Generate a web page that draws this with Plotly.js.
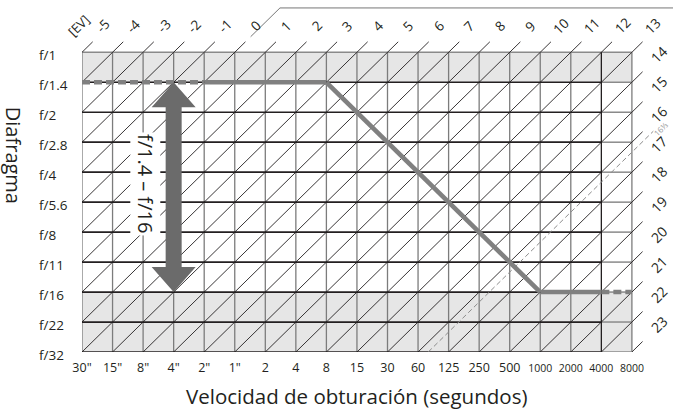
<!DOCTYPE html>
<html>
<head>
<meta charset="utf-8">
<script src="https://cdn.plot.ly/plotly-3.0.1.min.js"></script>
<style>
  html, body { margin: 0; padding: 0; background: #fff; }
  #chart { width: 673px; height: 411px; }
</style>
</head>
<body>
<div id="chart"></div>
<script>
// Programa de exposición: velocidad de obturación vs diafragma, líneas de EV
const SHUTTER = ['30"', '15"', '8"', '4"', '2"', '1"', '2', '4', '8', '15', '30', '60', '125', '250', '500', '1000', '2000', '4000', '8000'];
const APERTURE = ['f/1', 'f/1.4', 'f/2', 'f/2.8', 'f/4', 'f/5.6', 'f/8', 'f/11', 'f/16', 'f/22', 'f/32'];
const EV_TOP = [-5, -4, -3, -2, -1, 0, 1, 2, 3, 4, 5, 6, 7, 8, 9, 10, 11, 12, 13];
const EV_RIGHT = [14, 15, 16, 17, 18, 19, 20, 21, 22, 23];
const SHADED_ROWS = [['f/1', 'f/1.4'], ['f/16', 'f/32']];

// linea de programa (tramos), discontinua en los extremos
const PROGRAM_SHUTTER = ['30"', '2"', '8', '1000', '4000', '8000'];
const PROGRAM_APERTURE = ['f/1.4', 'f/1.4', 'f/1.4', 'f/16', 'f/16', 'f/16'];
const PROGRAM_DASH = ['dash', 'solid', 'solid', 'solid', 'dash'];

// flecha de rango de diafragma
const RANGE_SHUTTER = '4"';
const RANGE_APERTURE = ['f/1.4', 'f/16'];
const RANGE_LABEL = 'f/1.4 – f/16';

// limite de EV (línea fina discontinua)
const LIMIT_EV = 16 + 1 / 3;
const LIMIT_LABEL = '16⅓';
const BRACKET_EV = 0;

// geometría en píxeles
const W = 673, H = 411;
const L = 82, B = 59;
const CW = 30.55, RH = 29.97;
const XMAX = (W - L) / CW;
const YTOP = (H - B) / RH - (APERTURE.length - 1);

const FONT = 'Open Sans, Noto Sans, sans-serif';
const INK = '#231f20';

const NI = SHUTTER.length - 1;   // 18
const NJ = APERTURE.length - 1;  // 10
const si = s => SHUTTER.indexOf(s);
const aj = a => APERTURE.indexOf(a);
const EV0 = EV_TOP[0];

function segs(list) {
  const x = [], y = [];
  list.forEach(([x0, y0, x1, y1]) => { x.push(x0, x1, null); y.push(y0, y1, null); });
  return { x, y };
}
function lineTrace(list, color, width, dash) {
  const s = segs(list);
  return {
    x: s.x, y: s.y, type: 'scatter', mode: 'lines', hoverinfo: 'skip',
    line: { color, width, dash: dash || 'solid' }, showlegend: false,
  };
}

// diagonal de EV: i + j = ev - EV0
function diag(ev, ext) {
  const s = ev - EV0;
  const i0 = Math.max(0, s - NJ), i1 = Math.min(NI, s);
  return [i0, s - i0, i1 + ext, s - i1 - ext];
}

const traces = [];

// verticales
const vGray = [], vBlack = [];
SHUTTER.forEach((lab, i) => {
  (lab === '4000' ? vBlack : vGray).push([i, 0, i, NJ]);
});
// horizontales
const hBlack = [], hGray = [[0, 0, NI, 0]];
APERTURE.forEach((lab, j) => {
  if (j === 0) return;
  hBlack.push([0, j, si('4000'), j]);
  hGray.push([si('4000'), j, NI, j]);
});
traces.push(lineTrace(vGray, '#7c7c7c', 1.3));
traces.push(lineTrace(hGray, '#8a8a8a', 1.5));
traces.push(lineTrace(vBlack, INK, 1.3));
traces.push(lineTrace(hBlack, INK, 1.7));

// diagonales
const diags = EV_TOP.concat(EV_RIGHT).map(ev => diag(ev, 0.35));
traces.push(lineTrace(diags, INK, 0.9));

// límite 16 1/3
traces.push(lineTrace([diag(LIMIT_EV, 0.7)], '#8c8c8c', 1, '5px,3px'));

// corchete desde EV 0
const bs = BRACKET_EV - EV0;
traces.push(lineTrace([[bs + 0.52, -0.52, bs + 1.48, -1.48], [bs + 1.48, -1.48, XMAX, -1.48]], '#777', 1));

// línea de programa
for (let k = 0; k < PROGRAM_DASH.length; k++) {
  traces.push(lineTrace([[si(PROGRAM_SHUTTER[k]), aj(PROGRAM_APERTURE[k]), si(PROGRAM_SHUTTER[k + 1]), aj(PROGRAM_APERTURE[k + 1])]],
    '#808080', 4.6, PROGRAM_DASH[k] === 'dash' ? '8px,4px' : 'solid'));
}

// zonas sombreadas
const shapes = SHADED_ROWS.map(([a, b]) => ({
  type: 'rect', xref: 'x', yref: 'y', layer: 'below',
  x0: 0, x1: NI, y0: aj(a), y1: aj(b),
  fillcolor: '#e6e6e6', line: { width: 0 },
}));

// flecha doble
(function () {
  const cx = si(RANGE_SHUTTER);
  const yt = aj(RANGE_APERTURE[0]), yb = aj(RANGE_APERTURE[1]);
  const hw = 22 / CW, sw = 8 / CW, hh = 25 / RH;
  const p = [
    [cx, yt], [cx + hw, yt + hh], [cx + sw, yt + hh], [cx + sw, yb - hh], [cx + hw, yb - hh],
    [cx, yb], [cx - hw, yb - hh], [cx - sw, yb - hh], [cx - sw, yt + hh], [cx - hw, yt + hh],
  ];
  shapes.push({
    type: 'path', xref: 'x', yref: 'y', layer: 'above',
    path: 'M' + p.map(q => q[0] + ',' + q[1]).join(' L') + ' Z',
    fillcolor: '#6b6b6b', line: { width: 0 },
  });
})();

const annotations = [];
// etiquetas EV arriba
EV_TOP.forEach(ev => {
  const s = ev - EV0;
  annotations.push({
    x: s + 0.68, y: -0.88, xref: 'x', yref: 'y', text: String(ev), showarrow: false,
    textangle: -45, font: { family: FONT, size: 13.5, color: INK },
  });
});
annotations.push({
  x: 0, y: -0.88, xref: 'x', yref: 'y', xshift: -4, text: '[EV]', showarrow: false,
  textangle: -45, font: { family: FONT, size: 13, color: INK },
});
// etiquetas EV derecha
EV_RIGHT.forEach(ev => {
  const s = ev - EV0;
  annotations.push({
    x: NI + 0.88, y: s - NI - 0.92, xref: 'x', yref: 'y', text: String(ev), showarrow: false,
    textangle: -45, font: { family: FONT, size: 14, color: INK },
  });
});
annotations.push({
  x: NI + 0.95, y: LIMIT_EV - EV0 - NI - 0.78, xref: 'x', yref: 'y', text: LIMIT_LABEL, showarrow: false,
  textangle: -45, font: { family: FONT, size: 8, color: '#9a9a9a' },
});
// diafragmas
APERTURE.forEach((a, j) => {
  annotations.push({
    x: 0, xref: 'paper', xshift: -45, xanchor: 'left', y: j, yref: 'y', yshift: -3,
    text: a, showarrow: false, font: { family: FONT, size: 13.5, color: INK },
  });
});
// títulos
annotations.push({
  x: 0, xref: 'paper', xshift: -69, xanchor: 'center', y: 3.42, yref: 'y', text: 'Diafragma', showarrow: false,
  textangle: 90, font: { family: FONT, size: 20, color: INK },
});
annotations.push({
  x: 9.0, xref: 'x', y: 0, yref: 'paper', yshift: -44, yanchor: 'middle',
  text: 'Velocidad de obturación (segundos)', showarrow: false,
  font: { family: FONT, size: 20.5, color: INK },
});
annotations.push({
  x: 2.06, xref: 'x', y: 4.39, yref: 'y', text: RANGE_LABEL, showarrow: false,
  textangle: 90, bgcolor: '#ffffff', borderpad: 1,
  font: { family: FONT, size: 20, color: INK },
});

const ticktext = SHUTTER.map(s => s.length >= 4 ? `<span style="font-size:10.5px">${s}</span>` : s);

const layout = {
  width: W, height: H,
  paper_bgcolor: '#fff', plot_bgcolor: '#fff',
  margin: { l: L, r: 0, t: 0, b: B, pad: 0 },
  showlegend: false,
  font: { family: FONT, color: INK, size: 12.5 },
  xaxis: {
    range: [0, XMAX], showgrid: false, zeroline: false, showline: false, ticks: '',
    tickvals: SHUTTER.map((_, i) => i), ticktext, ticklabelstandoff: 6,
    tickfont: { family: FONT, size: 12.5, color: INK }, fixedrange: true,
  },
  yaxis: {
    range: [NJ, -YTOP], showgrid: false, zeroline: false, showline: false,
    showticklabels: false, ticks: '', fixedrange: true,
  },
  shapes, annotations,
};

Plotly.newPlot('chart', traces, layout, { displayModeBar: false, staticPlot: true });
</script>
</body>
</html>
